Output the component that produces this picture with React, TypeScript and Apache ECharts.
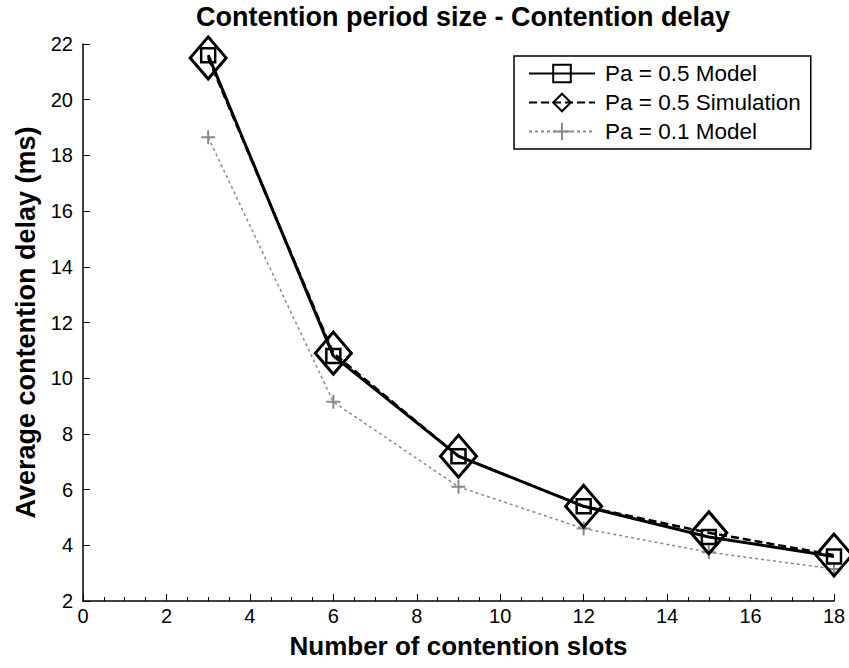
import React, { useEffect, useRef } from "react";
import * as echarts from "echarts";

const slots = [3, 6, 9, 12, 15, 18];
const model05 = [21.6, 10.8, 7.2, 5.4, 4.3, 3.6];
const sim05 = [21.5, 10.9, 7.2, 5.4, 4.45, 3.65];
const model01 = [18.65, 9.15, 6.1, 4.6, 3.75, 3.15];
const seriesNames = ["Pa = 0.5 Model", "Pa = 0.5 Simulation", "Pa = 0.1 Model"];

const pair = (ys: number[]) => slots.map((x, i) => [x, ys[i]]);

export default function App() {
  const ref = useRef<HTMLDivElement>(null);
  useEffect(() => {
    if (!ref.current) return;
    const chart = echarts.init(ref.current, null, { renderer: "svg" });
    const font = "'Liberation Sans', Arial, sans-serif";
    chart.setOption({
      animation: false,
      backgroundColor: "#fff",
      textStyle: { fontFamily: font },
      title: {
        text: "Contention period size - Contention delay",
        left: 458,
        textAlign: "center",
        top: -2,
        textStyle: { fontFamily: font, fontSize: 27, fontWeight: "bold", color: "#000" },
      },
      legend: {
        orient: "vertical",
        left: 514,
        top: 56,
        padding: [6, 10, 6, 14],
        borderColor: "#000",
        borderWidth: 1.5,
        borderRadius: 0,
        backgroundColor: "#fff",
        itemWidth: 66,
        itemHeight: 22,
        itemGap: 6,
        data: seriesNames,
        textStyle: { fontFamily: font, fontSize: 22.5, color: "#000", padding: [0, 0, 0, 5] },
      },
      grid: { left: 83, right: 15, top: 44, bottom: 67 },
      xAxis: {
        type: "value",
        min: 0,
        max: 18,
        interval: 2,
        name: "Number of contention slots",
        nameLocation: "middle",
        nameGap: 32,
        nameTextStyle: { fontFamily: font, fontSize: 26, fontWeight: "bold", color: "#000" },
        axisLine: { show: true, lineStyle: { color: "#000", width: 1.5 } },
        axisTick: { show: true, inside: true, length: 7, lineStyle: { color: "#000" } },
        minorTick: { show: true, splitNumber: 4, length: 4, lineStyle: { color: "#000" } },
        axisLabel: { fontFamily: font, fontSize: 20, color: "#000", margin: 5 },
        splitLine: { show: false },
      },
      yAxis: {
        type: "value",
        min: 2,
        max: 22,
        interval: 2,
        name: "Average contention delay (ms)",
        nameLocation: "middle",
        nameGap: 43,
        nameTextStyle: { fontFamily: font, fontSize: 27, fontWeight: "bold", color: "#000" },
        axisLine: { show: true, lineStyle: { color: "#000", width: 1.5 } },
        axisTick: { show: true, inside: true, length: 7, lineStyle: { color: "#000" } },
        axisLabel: { fontFamily: font, fontSize: 20, color: "#000", margin: 10 },
        splitLine: { show: false },
      },
      series: [
        {
          name: seriesNames[2],
          type: "line",
          data: pair(model01),
          z: 1,
          symbol: "path://M5,0L5,10M0,5L10,5",
          symbolSize: 14,
          lineStyle: { color: "#8a8a8a", width: 1.5, type: [3, 3] },
          itemStyle: { color: "none", borderColor: "#8a8a8a", borderWidth: 2 },
        },
        {
          name: seriesNames[0],
          type: "line",
          data: pair(model05),
          z: 3,
          symbol: "rect",
          symbolSize: 14,
          lineStyle: { color: "#000", width: 3 },
          itemStyle: { color: "none", borderColor: "#000", borderWidth: 2.5 },
        },
        {
          name: seriesNames[1],
          type: "line",
          data: pair(sim05),
          z: 2,
          symbol: "diamond",
          symbolSize: [36, 42],
          lineStyle: { color: "#000", width: 2.5, type: [8, 4] },
          itemStyle: { color: "none", borderColor: "#000", borderWidth: 3 },
        },
      ],
    });
    return () => chart.dispose();
  }, []);
  return (
    <div
      ref={ref}
      style={{ position: "fixed", left: 0, top: 0, width: 849, height: 668, background: "#fff" }}
    />
  );
}
